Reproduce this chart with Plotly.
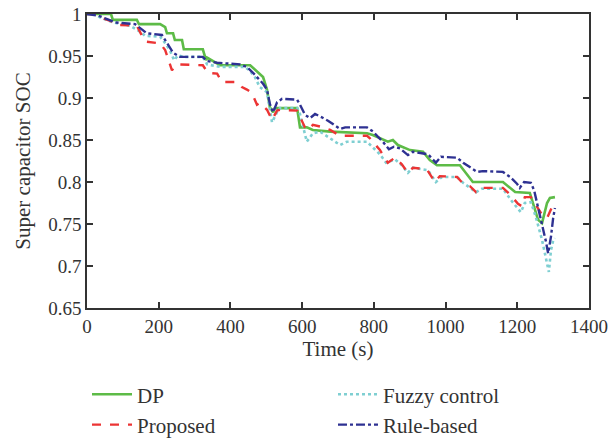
import plotly.graph_objects as go

# ---- data ----
t_dp = [0, 67, 72, 139, 145, 204, 218, 223, 240, 245, 265, 270, 323, 332, 335, 371, 455, 463, 477, 491, 502,
        510, 519, 524, 586, 594, 613, 630, 678, 781, 797, 839, 853, 867, 901, 937, 956, 976, 1040, 1054, 1076,
        1160, 1194, 1235, 1258, 1269, 1283, 1291, 1305]
soc_dp = [1.0, 1.0, 0.993, 0.993, 0.988, 0.988, 0.9845, 0.977, 0.977, 0.969, 0.969, 0.958, 0.958, 0.945, 0.948,
          0.939, 0.939, 0.936, 0.931, 0.925, 0.91, 0.889, 0.883, 0.888, 0.888, 0.865, 0.865, 0.862, 0.860, 0.858,
          0.856, 0.848, 0.85, 0.844, 0.838, 0.836, 0.826, 0.820, 0.820, 0.812, 0.800, 0.800, 0.788, 0.787, 0.755,
          0.751, 0.775, 0.781, 0.782]

t_prop = [0, 22, 36, 56, 78, 86, 139, 151, 159, 167, 204, 218, 229, 237, 245, 254, 323, 337, 363, 376, 418, 432,
          446, 460, 474, 482, 502, 516, 530, 538, 586, 594, 608, 616, 630, 650, 678, 706, 781, 789, 817, 839, 859,
          878, 895, 909, 948, 970, 984, 1032, 1049, 1068, 1085, 1101, 1160, 1180, 1202, 1213, 1221, 1238, 1255,
          1269, 1283, 1291, 1300, 1305]
soc_prop = [1.0, 1.0, 0.996, 0.993, 0.990, 0.987, 0.986, 0.976, 0.969, 0.967, 0.965, 0.957, 0.943, 0.933, 0.938,
            0.940, 0.939, 0.930, 0.929, 0.919, 0.919, 0.913, 0.910, 0.906, 0.892, 0.894, 0.886, 0.874, 0.885, 0.886,
            0.885, 0.877, 0.865, 0.862, 0.868, 0.866, 0.862, 0.855, 0.855, 0.852, 0.838, 0.823, 0.829, 0.821, 0.811,
            0.817, 0.815, 0.800, 0.807, 0.806, 0.798, 0.795, 0.788, 0.793, 0.793, 0.785, 0.774, 0.771, 0.782, 0.782,
            0.771, 0.761, 0.757, 0.764, 0.773, 0.775]

t_fuzzy = [0, 22, 36, 72, 120, 148, 162, 204, 215, 231, 243, 254, 268, 323, 335, 371, 441, 455, 468, 482, 502,
           516, 530, 538, 586, 594, 613, 630, 650, 678, 692, 706, 725, 781, 795, 817, 834, 859, 878, 895, 909, 951,
           973, 990, 1032, 1049, 1085, 1101, 1160, 1185, 1210, 1221, 1238, 1252, 1269, 1280, 1288, 1294, 1300, 1305]
soc_fuzzy = [1.0, 1.0, 0.996, 0.990, 0.986, 0.979, 0.974, 0.973, 0.967, 0.957, 0.945, 0.951, 0.949, 0.949, 0.940,
             0.937, 0.937, 0.932, 0.925, 0.913, 0.907, 0.871, 0.883, 0.888, 0.888, 0.881, 0.848, 0.858, 0.860, 0.852,
             0.848, 0.844, 0.848, 0.848, 0.842, 0.833, 0.823, 0.827, 0.820, 0.811, 0.817, 0.814, 0.800, 0.806, 0.806,
             0.799, 0.788, 0.792, 0.792, 0.777, 0.764, 0.775, 0.776, 0.758, 0.731, 0.707, 0.693, 0.719, 0.730, 0.733]

t_rule = [0, 31, 56, 78, 134, 148, 167, 209, 223, 240, 259, 323, 335, 363, 427, 446, 463, 477, 491, 502, 510, 519,
          530, 544, 586, 594, 608, 622, 636, 655, 672, 706, 720, 781, 798, 811, 825, 842, 856, 873, 895, 909, 951,
          973, 987, 1032, 1049, 1088, 1104, 1160, 1180, 1199, 1207, 1219, 1238, 1247, 1258, 1272, 1280, 1286, 1294,
          1300, 1305]
soc_rule = [1.0, 0.998, 0.994, 0.990, 0.988, 0.983, 0.977, 0.975, 0.965, 0.954, 0.949, 0.949, 0.944, 0.942, 0.940,
            0.937, 0.930, 0.924, 0.917, 0.910, 0.893, 0.883, 0.895, 0.899, 0.898, 0.892, 0.880, 0.876, 0.881, 0.877,
            0.873, 0.863, 0.865, 0.865, 0.860, 0.854, 0.848, 0.839, 0.842, 0.840, 0.832, 0.836, 0.833, 0.823, 0.830,
            0.829, 0.823, 0.812, 0.813, 0.812, 0.806, 0.798, 0.793, 0.800, 0.799, 0.790, 0.770, 0.746, 0.729, 0.715,
            0.735, 0.757, 0.769]

x_ticks = [0, 200, 400, 600, 800, 1000, 1200, 1400]
y_ticks = [0.65, 0.7, 0.75, 0.8, 0.85, 0.9, 0.95, 1]

FONT = "Liberation Serif"
TXT = "#333333"

fig = go.Figure()
fig.add_trace(go.Scatter(x=t_dp, y=soc_dp, name="DP", mode="lines", legend="legend", legendgroup="a",
                         line=dict(color="#5dbb47", width=2.6)))
fig.add_trace(go.Scatter(x=t_fuzzy, y=soc_fuzzy, name="Fuzzy control", mode="lines", legend="legend2",
                         legendgroup="c", line=dict(color="#7fcfd2", width=2.6, dash="dot")))
fig.add_trace(go.Scatter(x=t_prop, y=soc_prop, name="Proposed", mode="lines", legend="legend", legendgroup="b",
                         line=dict(color="#ec3434", width=2.4, dash="dash")))
fig.add_trace(go.Scatter(x=t_rule, y=soc_rule, name="Rule-based", mode="lines", legend="legend2",
                         legendgroup="d", line=dict(color="#2e3192", width=2.4, dash="dashdot")))

axis_common = dict(showgrid=False, zeroline=False, showline=True, linecolor=TXT, linewidth=1.5,
                   mirror="ticks", ticks="inside", ticklen=6, tickwidth=1.5, tickcolor=TXT,
                   tickfont=dict(family=FONT, size=19, color=TXT))

fig.update_xaxes(range=[0, 1400], tickvals=x_ticks,
                 title=dict(text="Time (s)", font=dict(family=FONT, size=21, color=TXT), standoff=6),
                 **axis_common)
fig.update_yaxes(range=[0.65, 1.0], tickvals=y_ticks, ticktext=[f"{v:g}" for v in y_ticks],
                 title=dict(text="Super capacitor SOC", font=dict(family=FONT, size=21, color=TXT), standoff=12),
                 **axis_common)

leg_common = dict(orientation="v", yanchor="top", xanchor="left", traceorder="normal",
                  font=dict(family=FONT, size=21, color=TXT), itemwidth=40, tracegroupgap=5,
                  bgcolor="rgba(0,0,0,0)")
fig.update_layout(
    width=610, height=439,
    margin=dict(l=87, r=21, t=14, b=131, autoexpand=False),
    plot_bgcolor="white", paper_bgcolor="white",
    font=dict(family=FONT, color=TXT),
    showlegend=True,
    legend=dict(x=0.0, y=-0.225, **leg_common),
    legend2=dict(x=0.49, y=-0.225, **leg_common),
)

fig.write_html("out.html", config={"displayModeBar": False},
               post_script="document.body.style.margin='0px';")
